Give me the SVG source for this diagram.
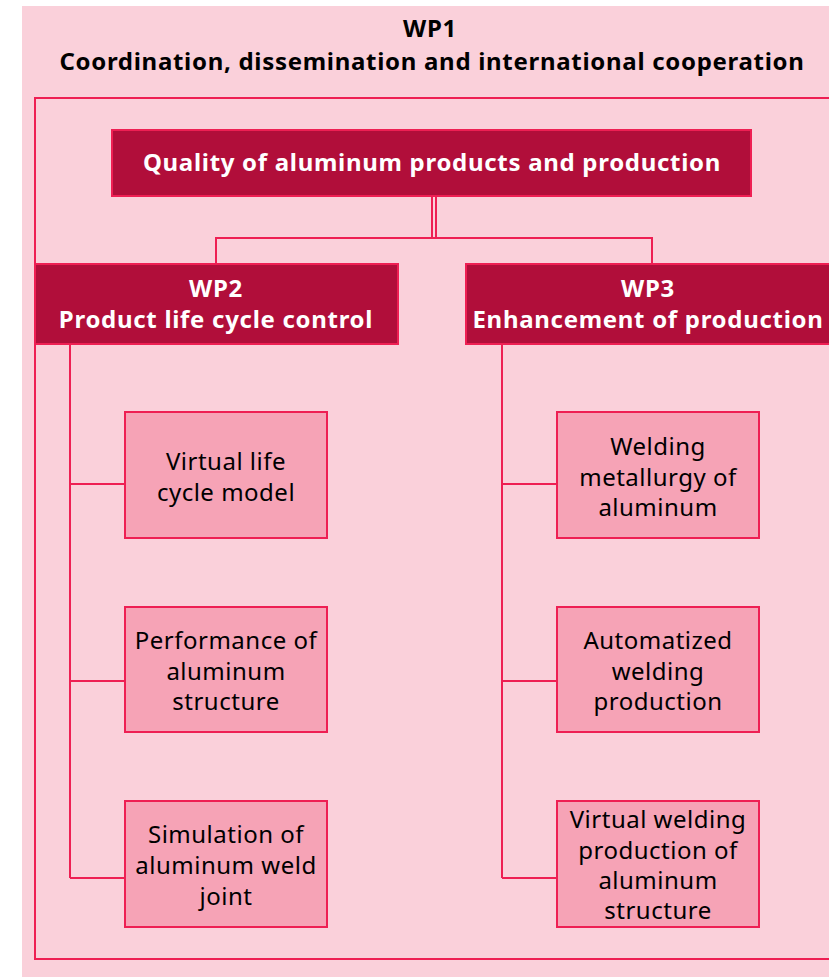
<svg xmlns="http://www.w3.org/2000/svg" width="829" height="977" viewBox="0 0 829 977">
<style>
.bg{fill:#FAD0DA}
.frame{fill:none;stroke:#EE1F53;stroke-width:2}
.dark{fill:#B10E3A;stroke:#EE1F53;stroke-width:2}
.light{fill:#F6A3B6;stroke:#EE1F53;stroke-width:2}
.ln{fill:none;stroke:#EE1F53;stroke-width:2}
.t{font-family:"Noto Sans","Liberation Sans",sans-serif;text-anchor:middle}
.h{font-weight:bold;font-size:24px;letter-spacing:0.7px}
.w{fill:#FFFFFF}
.k{fill:#000000}
.c{font-size:24px;letter-spacing:0.5px}
</style>
<rect class="bg" x="22" y="6" width="807" height="971"/>
<g id="wp1">
<rect class="frame" x="35" y="98" width="810" height="861"/>
<text class="t h k" x="430" y="37">WP1</text>
<text class="t h k" x="432" y="70">Coordination, dissemination and international cooperation</text>
</g>
<g id="connectors">
<line class="ln" x1="432" y1="196" x2="432" y2="238"/>
<line class="ln" x1="436" y1="196" x2="436" y2="238"/>
<polyline class="ln" points="216,264 216,238 652,238 652,264"/>
<line class="ln" x1="70" y1="344" x2="70" y2="878"/>
<line class="ln" x1="70" y1="484" x2="125" y2="484"/>
<line class="ln" x1="70" y1="681" x2="125" y2="681"/>
<line class="ln" x1="70" y1="878" x2="125" y2="878"/>
<line class="ln" x1="502" y1="344" x2="502" y2="878"/>
<line class="ln" x1="502" y1="484" x2="557" y2="484"/>
<line class="ln" x1="502" y1="681" x2="557" y2="681"/>
<line class="ln" x1="502" y1="878" x2="557" y2="878"/>
</g>
<g id="top">
<rect class="dark" x="112" y="130" width="639" height="66"/>
<text class="t h w" x="432" y="171">Quality of aluminum products and production</text>
</g>
<g id="wp2">
<rect class="dark" x="35" y="264" width="363" height="80"/>
<text class="t h w" x="216" y="297">WP2</text>
<text class="t h w" x="216" y="328">Product life cycle control</text>
</g>
<g id="wp3">
<rect class="dark" x="466" y="264" width="380" height="80"/>
<text class="t h w" x="648" y="297">WP3</text>
<text class="t h w" x="648" y="328">Enhancement of production</text>
</g>
<g id="n1">
<rect class="light" x="125" y="412" width="202" height="126"/>
<text class="t c k" x="226" y="470">Virtual life</text>
<text class="t c k" x="226" y="501">cycle model</text>
</g>
<g id="n2">
<rect class="light" x="125" y="607" width="202" height="125"/>
<text class="t c k" x="226" y="649">Performance of</text>
<text class="t c k" x="226" y="680">aluminum</text>
<text class="t c k" x="226" y="710">structure</text>
</g>
<g id="n3">
<rect class="light" x="125" y="801" width="202" height="126"/>
<text class="t c k" x="226" y="843">Simulation of</text>
<text class="t c k" x="226" y="874">aluminum weld</text>
<text class="t c k" x="226" y="905">joint</text>
</g>
<g id="n4">
<rect class="light" x="557" y="412" width="202" height="126"/>
<text class="t c k" x="658" y="455">Welding</text>
<text class="t c k" x="658" y="486">metallurgy of</text>
<text class="t c k" x="658" y="516">aluminum</text>
</g>
<g id="n5">
<rect class="light" x="557" y="607" width="202" height="125"/>
<text class="t c k" x="658" y="649">Automatized</text>
<text class="t c k" x="658" y="680">welding</text>
<text class="t c k" x="658" y="710">production</text>
</g>
<g id="n6">
<rect class="light" x="557" y="801" width="202" height="126"/>
<text class="t c k" x="658" y="828">Virtual welding</text>
<text class="t c k" x="658" y="859">production of</text>
<text class="t c k" x="658" y="889">aluminum</text>
<text class="t c k" x="658" y="919">structure</text>
</g>
</svg>
